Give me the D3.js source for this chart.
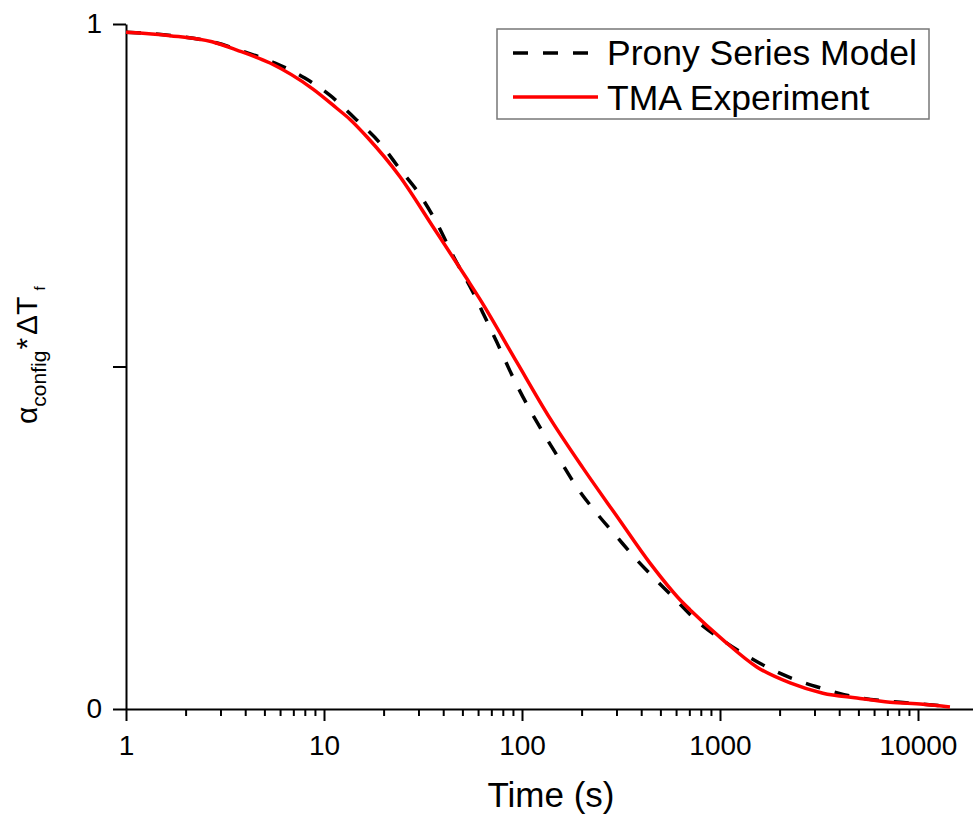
<!DOCTYPE html>
<html>
<head>
<meta charset="utf-8">
<script src="https://cdn.jsdelivr.net/npm/d3@7"></script>
<style>
  body { margin: 0; background: #fff; }
  svg { font-family: "Liberation Sans", Arial, sans-serif; }
</style>
</head>
<body>
<svg id="chart" width="973" height="818"></svg>
<script>
// TMA experiment (red, solid)
var tmaTime = [1, 1.67, 2.72, 3.63, 5.34, 8.8, 11.6, 13.5, 16.5, 24.2, 35.5, 52.7, 61.4,
               94.3, 138, 203, 302, 443, 650, 705, 1035, 1540, 2260, 3310, 4920, 7220, 10600, 14500];
var tmaValue = [0.988, 0.983, 0.974, 0.962, 0.943, 0.905, 0.877, 0.861, 0.835, 0.777, 0.704, 0.628, 0.598,
                0.506, 0.425, 0.352, 0.281, 0.213, 0.155, 0.145, 0.101, 0.061, 0.038, 0.023, 0.016, 0.010, 0.007, 0.003];

// Prony series model (black, dashed)
var pronyTime = [1, 2.72, 3.9, 5.66, 8.0, 10.7, 14.6, 19.2, 24.2, 30.6, 37.2, 44.8, 56.4, 63.3, 74.8,
                 89.8, 128, 155, 189, 238, 302, 379, 477, 600, 755, 1000, 1540, 1940, 2450, 3200, 4540,
                 7220, 10600, 14500];
var pronyValue = [0.988, 0.974, 0.960, 0.943, 0.921, 0.896, 0.860, 0.826, 0.788, 0.750, 0.709, 0.662, 0.609, 0.579, 0.535,
                  0.485, 0.403, 0.364, 0.324, 0.286, 0.251, 0.218, 0.188, 0.159, 0.130, 0.103, 0.069, 0.054, 0.042, 0.031, 0.019,
                  0.011, 0.007, 0.004];

var xMajor = [1, 10, 100, 1000, 10000];
var yTicks = [0, 0.5, 1];
var yLabels = ["0", "", "1"];
var legendNames = ["Prony Series Model", "TMA Experiment"];

var svg = d3.select("#chart");

var plotLeft = 126, plotRight = 973, plotTop = 24, plotBottom = 709;
var decade = 198;

var x = d3.scaleLog()
    .domain([1, Math.pow(10, (plotRight - plotLeft) / decade)])
    .range([plotLeft, plotRight]);
var y = d3.scaleLinear()
    .domain([0, 1])
    .range([plotBottom, plotTop]);

// minor ticks 2..9 per decade
var xMinor = [];
xMajor.forEach(function (m) {
    for (var k = 2; k <= 9; k++) {
        if (m * k < x.domain()[1]) xMinor.push(m * k);
    }
});

// x axis
var gxMinor = svg.append("g")
    .attr("transform", "translate(0," + plotBottom + ")")
    .call(d3.axisBottom(x).tickValues(xMinor).tickSize(7).tickSizeOuter(0).tickFormat(""));
gxMinor.select(".domain").remove();
gxMinor.selectAll("line").attr("stroke", "#000").attr("stroke-width", 2);

var gx = svg.append("g")
    .attr("transform", "translate(0," + plotBottom + ")")
    .call(d3.axisBottom(x).tickValues(xMajor).tickSize(12).tickSizeOuter(0)
          .tickPadding(14).tickFormat(d3.format("d")));
gx.select(".domain").attr("stroke", "#000").attr("stroke-width", 2);
gx.selectAll("line").attr("stroke", "#000").attr("stroke-width", 2);
gx.selectAll("text").attr("font-size", 28).attr("fill", "#000")
    .attr("font-family", "Liberation Sans, Arial, sans-serif");

// y axis
var gy = svg.append("g")
    .attr("transform", "translate(" + plotLeft + ",0)")
    .call(d3.axisLeft(y).tickValues(yTicks).tickSize(13).tickSizeOuter(0)
          .tickPadding(11).tickFormat(function (d, i) { return yLabels[i]; }));
gy.select(".domain").attr("stroke", "#000").attr("stroke-width", 2);
gy.selectAll("line").attr("stroke", "#000").attr("stroke-width", 2);
gy.selectAll("text").attr("font-size", 28).attr("fill", "#000")
    .attr("font-family", "Liberation Sans, Arial, sans-serif");

// curves
var line = d3.line()
    .x(function (d) { return x(d[0]); })
    .y(function (d) { return y(d[1]); })
    .curve(d3.curveMonotoneX);

var tmaData = tmaTime.map(function (t, i) { return [t, tmaValue[i]]; });
var pronyData = pronyTime.map(function (t, i) { return [t, pronyValue[i]]; });

svg.append("path")
    .datum(pronyData)
    .attr("d", line)
    .attr("fill", "none")
    .attr("stroke", "#000")
    .attr("stroke-width", 3.5)
    .attr("stroke-dasharray", "15,15");

svg.append("path")
    .datum(tmaData)
    .attr("d", line)
    .attr("fill", "none")
    .attr("stroke", "#f00")
    .attr("stroke-width", 3.5);

// legend
var lg = svg.append("g");
lg.append("rect")
    .attr("x", 497).attr("y", 29)
    .attr("width", 432).attr("height", 90)
    .attr("fill", "#fff")
    .attr("stroke", "#777")
    .attr("stroke-width", 1.5);

var legendStyles = [
    { color: "#000", dash: "15,15", ly: 53, ty: 65 },
    { color: "#f00", dash: null, ly: 97, ty: 110 }
];
legendNames.forEach(function (name, i) {
    var s = legendStyles[i];
    lg.append("line")
        .attr("x1", 513).attr("x2", 598)
        .attr("y1", s.ly).attr("y2", s.ly)
        .attr("stroke", s.color)
        .attr("stroke-width", 3.5)
        .attr("stroke-dasharray", s.dash);
    lg.append("text")
        .attr("x", 607).attr("y", s.ty)
        .attr("font-size", 35.5)
        .attr("fill", "#000")
        .text(name);
});

// axis titles
svg.append("text")
    .attr("x", 551).attr("y", 807)
    .attr("text-anchor", "middle")
    .attr("font-size", 35)
    .attr("fill", "#000")
    .text("Time (s)");

var yt = svg.append("text")
    .attr("transform", "translate(37,424) rotate(-90)")
    .attr("font-size", 30)
    .attr("fill", "#000");
yt.append("tspan").text("\u03B1");
yt.append("tspan").attr("font-size", 21).attr("dy", 9).text("config");
yt.append("tspan").attr("dy", -9).attr("dx", 1).text("*");
yt.append("tspan").attr("dx", 3).text("\u0394T");
yt.append("tspan").attr("font-size", 15).attr("dx", 6).attr("dy", 8).text("f");
</script>
</body>
</html>
